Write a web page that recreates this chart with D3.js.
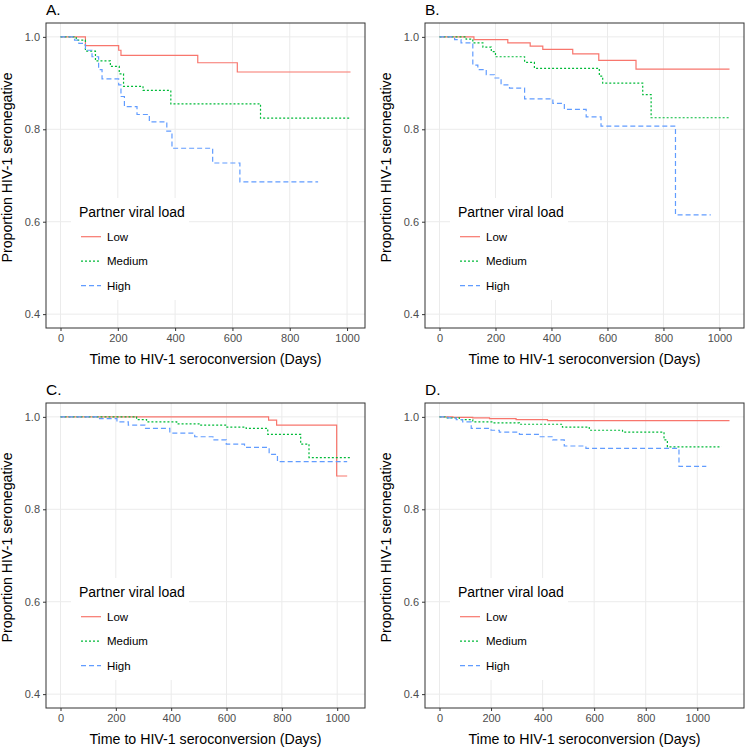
<!DOCTYPE html>
<html>
<head>
<meta charset="utf-8">
<script src="https://cdn.jsdelivr.net/npm/d3@7"></script>
<style>
  body { margin: 0; background: #fff; }
  svg text { font-family: "Liberation Sans", Arial, sans-serif; }
</style>
</head>
<body>
<svg id="chart" width="747" height="747"></svg>
<script>
// Kaplan-Meier steps: [day, proportion seronegative]
const aLow = [[0, 1], [87, 0.981], [203, 0.971], [211, 0.96], [479, 0.944], [617, 0.924], [1012, 0.924]];
const aMedium = [[0, 1], [55, 0.993], [87, 0.969], [122, 0.948], [174, 0.936], [205, 0.92], [220, 0.893], [288, 0.884], [385, 0.855], [698, 0.824], [1012, 0.824]];
const aHigh = [[0, 1], [49, 0.993], [64, 0.986], [87, 0.971], [110, 0.957], [133, 0.929], [145, 0.909], [203, 0.896], [211, 0.871], [223, 0.849], [267, 0.832], [310, 0.816], [371, 0.796], [389, 0.759], [531, 0.727], [626, 0.686], [899, 0.686]];

const bLow = [[0, 1], [123, 0.994], [244, 0.987], [324, 0.98], [369, 0.973], [476, 0.963], [569, 0.949], [702, 0.93], [1036, 0.93]];
const bMedium = [[0, 1], [95, 0.995], [119, 0.987], [155, 0.978], [185, 0.968], [200, 0.957], [304, 0.945], [339, 0.932], [571, 0.915], [583, 0.9], [726, 0.875], [756, 0.825], [1036, 0.825]];
const bHigh = [[0, 1], [54, 0.994], [77, 0.987], [119, 0.939], [137, 0.929], [167, 0.918], [196, 0.911], [220, 0.896], [250, 0.889], [304, 0.866], [405, 0.856], [446, 0.843], [524, 0.827], [577, 0.807], [843, 0.615], [969, 0.615]];

const cLow = [[0, 1], [752, 0.993], [781, 0.982], [998, 0.872], [1036, 0.872]];
const cMedium = [[0, 1], [275, 0.994], [311, 0.989], [420, 0.985], [503, 0.982], [599, 0.978], [671, 0.975], [749, 0.962], [868, 0.941], [898, 0.912], [1048, 0.912]];
const cHigh = [[0, 1], [141, 0.996], [204, 0.989], [245, 0.982], [305, 0.975], [395, 0.965], [485, 0.957], [551, 0.95], [599, 0.941], [665, 0.934], [754, 0.919], [784, 0.903], [1036, 0.903]];

const dLow = [[0, 1], [52, 0.999], [129, 0.998], [194, 0.996], [297, 0.994], [419, 0.992], [1125, 0.992]];
const dMedium = [[0, 1], [26, 0.998], [77, 0.994], [129, 0.989], [206, 0.987], [310, 0.984], [477, 0.978], [581, 0.971], [710, 0.967], [871, 0.95], [884, 0.935], [1094, 0.935]];
const dHigh = [[0, 1], [32, 0.998], [65, 0.994], [90, 0.989], [123, 0.975], [200, 0.971], [232, 0.967], [310, 0.962], [387, 0.957], [439, 0.95], [484, 0.937], [568, 0.932], [929, 0.893], [1035, 0.893]];

const groups = ['Low', 'Medium', 'High'];
const panelLabels = ['A.', 'B.', 'C.', 'D.'];
const xTicks = [0, 200, 400, 600, 800, 1000];
const yTicks = [0.4, 0.6, 0.8, 1.0];

const colors = { Low: '#F8766D', Medium: '#00BA38', High: '#619CFF' };
const dashes = { Low: null, Medium: '2,2', High: '5,3' };

const panels = [
  { label: panelLabels[0], left: 46, top: 23, series: [aLow, aMedium, aHigh] },
  { label: panelLabels[1], left: 425, top: 23, series: [bLow, bMedium, bHigh] },
  { label: panelLabels[2], left: 46, top: 403, series: [cLow, cMedium, cHigh] },
  { label: panelLabels[3], left: 425, top: 403, series: [dLow, dMedium, dHigh] }
];
const pw = 319, ph = 305;

const svg = d3.select('#chart');

panels.forEach(p => {
  const maxDay = d3.max(p.series, s => d3.max(s, d => d[0]));
  const x = d3.scaleLinear()
    .domain([-0.05 * maxDay, 1.05 * maxDay])
    .range([0, pw]);
  const y = d3.scaleLinear()
    .domain([0.37, 1.03])
    .range([ph, 0]);

  const g = svg.append('g')
    .attr('transform', 'translate(' + p.left + ',' + p.top + ')');

  // grid
  g.selectAll('.vgrid')
    .data(xTicks)
  .enter().append('line')
    .attr('x1', d => x(d)).attr('x2', d => x(d))
    .attr('y1', 0).attr('y2', ph)
    .attr('stroke', '#EBEBEB').attr('stroke-width', 1);
  g.selectAll('.hgrid')
    .data(yTicks)
  .enter().append('line')
    .attr('x1', 0).attr('x2', pw)
    .attr('y1', d => y(d)).attr('y2', d => y(d))
    .attr('stroke', '#EBEBEB').attr('stroke-width', 1);

  // curves
  const line = d3.line()
    .x(d => x(d[0]))
    .y(d => y(d[1]))
    .curve(d3.curveStepAfter);

  p.series.forEach((s, i) => {
    const grp = groups[i];
    g.append('path')
      .datum(s)
      .attr('d', line)
      .attr('fill', 'none')
      .attr('stroke', colors[grp])
      .attr('stroke-width', 1.2)
      .attr('stroke-dasharray', dashes[grp]);
  });

  // legend
  const lg = g.append('g').attr('transform', 'translate(25,175)');
  lg.append('rect')
    .attr('width', 118).attr('height', 102)
    .attr('fill', '#fff');
  lg.append('text')
    .attr('x', 8).attr('y', 19)
    .attr('font-size', 14)
    .attr('fill', '#000')
    .text('Partner viral load');
  groups.forEach((grp, i) => {
    const ky = 38.7 + i * 24.5;
    lg.append('line')
      .attr('x1', 10).attr('x2', 30)
      .attr('y1', ky).attr('y2', ky)
      .attr('stroke', colors[grp])
      .attr('stroke-width', 1.2)
      .attr('stroke-dasharray', dashes[grp]);
    lg.append('text')
      .attr('x', 36).attr('y', ky + 4)
      .attr('font-size', 11.5)
      .attr('fill', '#000')
      .text(grp);
  });

  // border
  g.append('rect')
    .attr('width', pw).attr('height', ph)
    .attr('fill', 'none')
    .attr('stroke', '#333333').attr('stroke-width', 1);

  // axes
  const xAxis = g.append('g')
    .attr('transform', 'translate(0,' + ph + ')')
    .call(d3.axisBottom(x).tickValues(xTicks).tickSize(3).tickPadding(3).tickFormat(d3.format('d')));
  const yAxis = g.append('g')
    .call(d3.axisLeft(y).tickValues(yTicks).tickSize(3).tickPadding(3).tickFormat(d3.format('.1f')));
  [xAxis, yAxis].forEach(a => {
    a.select('.domain').remove();
    a.selectAll('line').attr('stroke', '#333333');
    a.selectAll('text')
      .attr('fill', '#4D4D4D')
      .attr('font-size', 11)
      .style('font-family', '"Liberation Sans", Arial, sans-serif');
  });

  // titles
  g.append('text')
    .attr('x', pw / 2).attr('y', ph + 36)
    .attr('text-anchor', 'middle')
    .attr('font-size', 14.2)
    .text('Time to HIV-1 seroconversion (Days)');
  g.append('text')
    .attr('transform', 'translate(-34,' + (ph / 2 - 8) + ') rotate(-90)')
    .attr('text-anchor', 'middle')
    .attr('font-size', 14.2)
    .text('Proportion HIV-1 seronegative');
  g.append('text')
    .attr('x', 0).attr('y', -8)
    .attr('font-size', 15.5)
    .text(p.label);
});
</script>
</body>
</html>
